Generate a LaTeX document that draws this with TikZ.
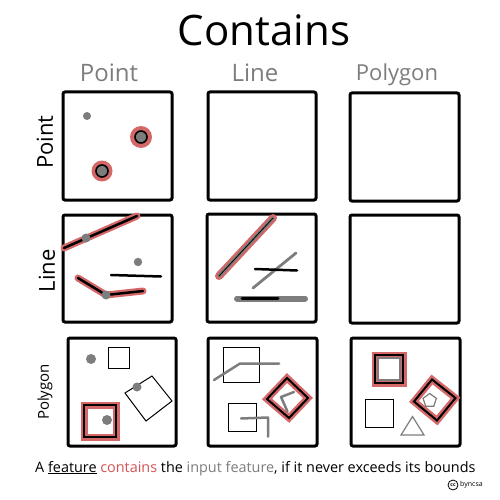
\documentclass[tikz,border=0pt]{standalone}
\usepackage{fontspec}
\setmainfont{Open Sans}
\begin{document}
\begin{tikzpicture}[x=1pt,y=-1pt,
  panel/.style={draw=black,line width=3,rounded corners=2},
  thin/.style={draw=black,line width=1},
  blk/.style={draw=black,line width=2.5,line cap=round,line join=round},
  gry/.style={draw=grayc,line width=2.8,line cap=round,line join=round},
  halo/.style={draw=redh,line width=7,line cap=round,line join=round},
  gdot/.style={fill=grayc},
  hdr/.style={text=grayc,font=\fontsize{24}{24}\selectfont,inner sep=0},
  rowlbl/.style={text=black,rotate=90,inner sep=0}]
\definecolor{redh}{RGB}{212,104,104}
\definecolor{grayc}{RGB}{125,125,125}
\definecolor{redt}{RGB}{210,85,85}
\useasboundingbox[fill=white] (0,0) rectangle (500,500);

% title and headers
\node[font=\fontsize{42}{42}\selectfont,inner sep=0] (title) at (264,30) {Contains};
\node[hdr] (hpoint) at (109,73) {Point};
\node[hdr] (hline) at (255,73) {Line};
\node[hdr,font=\fontsize{22}{22}\selectfont] (hpoly) at (397,75) {Polygon};
\node[rowlbl,font=\fontsize{22}{22}\selectfont] (rpoint) at (45,142) {Point};
\node[rowlbl,font=\fontsize{22}{22}\selectfont] (rline) at (47,271) {Line};
\node[rowlbl,font=\fontsize{15}{15}\selectfont] (rpoly) at (45,392) {Polygon};

% panels
\draw[panel] (63,92) rectangle (172,200);
\draw[panel] (208,92) rectangle (316,200);
\draw[panel] (350,93) rectangle (459,201);
\draw[panel] (63,215) rectangle (172,322);
\draw[panel] (207,214) rectangle (316,322);
\draw[panel] (350,215) rectangle (459,323);
\draw[panel] (68,338) rectangle (176,446);
\draw[panel] (208,338) rectangle (317,446);
\draw[panel] (351,338) rectangle (460,446);

% row 1, panel 1
\fill[gdot] (87,116) circle (4);
\fill[redh] (141,137) circle (11);
\draw[fill=grayc,line width=1.6] (141,137) circle (6);
\fill[redh] (102,171) circle (10.5);
\draw[fill=grayc,line width=1.6] (102,171) circle (6);

% row 2, panel 1
\draw[halo] (64,248) -- (137,216);
\draw[blk] (64,248) -- (137,216);
\fill[gdot] (86,238) circle (4.5);
\draw[halo] (78,278) -- (106,295) -- (143,291);
\draw[blk] (78,278) -- (106,295) -- (143,291);
\fill[gdot] (106,295) circle (4.5);
\draw[blk] (111,275) -- (161,276.5);
\fill[gdot] (138,262) circle (4.2);

% row 2, panel 2
\draw[halo,line width=8] (219,276) -- (273,218);
\draw[gry,line width=3.5] (219,276) -- (273,218);
\draw[black,line width=0.8] (219,276) -- (273,218);
\draw[gry] (253,288) -- (296,253);
\draw[blk] (255,269) -- (297,270.5);
\draw[gry,line width=6] (237,298.5) -- (305,298.5);
\draw[blk,line width=3] (242,298) -- (278,298);

% row 3, panel 1
\fill[gdot] (91,359) circle (5);
\draw[thin] (108,347) rectangle (129,368);
\draw[thin] (152,376) -- (172,401) -- (146,421) -- (125,393) -- cycle;
\fill[gdot] (137,387) circle (4.5);
\draw[halo,line cap=butt,line join=miter] (84,405) rectangle (116,437);
\draw[black,line width=2] (84,405) rectangle (116,437);
\fill[gdot] (107,420) circle (5);

% row 3, panel 2
\draw[thin] (223,347) rectangle (259,382);
\draw[gry,line width=2.5] (214,380) -- (240,363.5) -- (279,363.5);
\draw[thin] (228,403.5) rectangle (256,431.5);
\draw[gry,line width=2.5] (241,418.5) -- (268,417.5) -- (268,436.5);
\draw[halo,line cap=butt,line join=miter] (287,378) -- (308,398) -- (289,418) -- (267,399) -- cycle;
\draw[black,line width=2] (287,378) -- (308,398) -- (289,418) -- (267,399) -- cycle;
\draw[gry,line width=2.5] (294,392) -- (281,397) -- (287.5,411.5);

% row 3, panel 3
\draw[halo,line cap=butt,line join=miter] (375,355) rectangle (403,383);
\draw[black,line width=2] (375,355) rectangle (403,383);
\draw[grayc,line width=2.5] (378,358) rectangle (400,380);
\draw[thin] (365,399) rectangle (393,427);
\draw[grayc,line width=1.2] (401,435) -- (424,435) -- (412.5,416.5) -- cycle;
\draw[halo,line cap=butt,line join=miter] (432,379.5) -- (455.5,398) -- (437,420.5) -- (414,401.5) -- cycle;
\draw[black,line width=2] (432,379.5) -- (455.5,398) -- (437,420.5) -- (414,401.5) -- cycle;
\begin{scope}[shift={(429.7,400.5)}]
\draw[grayc,line width=1.2] (-90:7) -- (-18:7) -- (54:7) -- (126:7) -- (198:7) -- cycle;
\end{scope}

% caption
\node[anchor=base west,inner sep=0,font=\fontsize{14.4}{14.4}\selectfont] (cap) at (35,472)
  {A \underline{feature} \textcolor{redt}{contains} the \textcolor{grayc}{input feature}, if it never exceeds its bounds};
\draw[black,line width=0.8] (453,485) circle (5);
\node[inner sep=0,font=\fontsize{5}{5}\selectfont\bfseries] (cclogo) at (453,485) {cc};
\node[anchor=west,inner sep=0,font=\fontsize{7}{7}\selectfont] (ccby) at (460,485) {byncsa};
\end{tikzpicture}
\end{document}
